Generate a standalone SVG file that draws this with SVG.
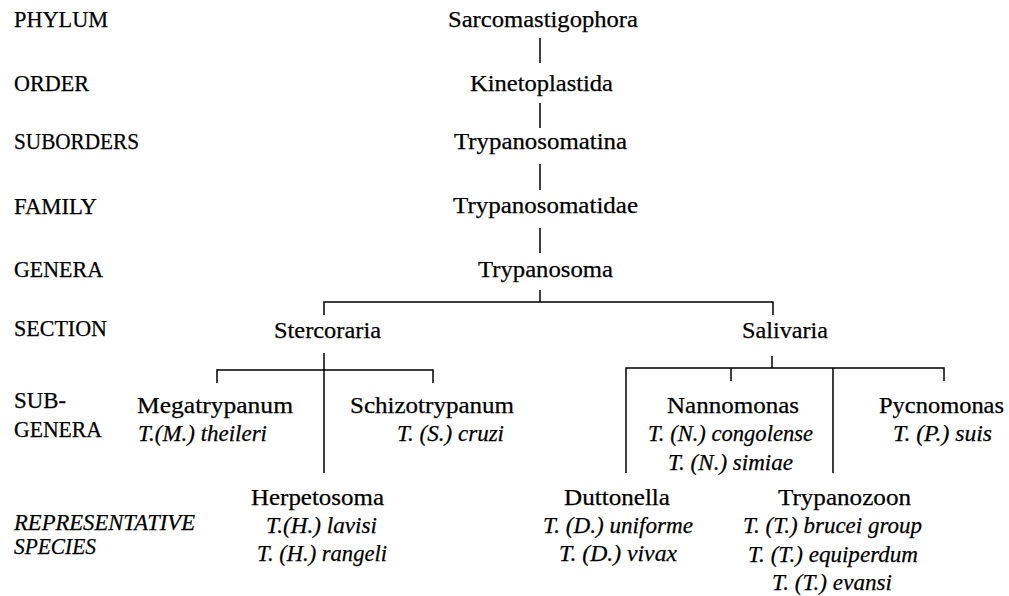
<svg xmlns="http://www.w3.org/2000/svg" width="1009" height="596" viewBox="0 0 1009 596">
<style>
text{font-family:'Liberation Serif','Times New Roman',serif;font-size:23px;fill:#000;stroke:#000;stroke-width:0.25}
.i{font-style:italic}
.c{stroke:#000;stroke-width:1.5;fill:none}
</style>
<rect width="1009" height="596" fill="#fff"/>
<g id="rank-labels">
<text x="14" y="27" textLength="94" lengthAdjust="spacingAndGlyphs">PHYLUM</text>
<text x="14" y="91" textLength="75" lengthAdjust="spacingAndGlyphs">ORDER</text>
<text x="14" y="149" textLength="125" lengthAdjust="spacingAndGlyphs">SUBORDERS</text>
<text x="14" y="214" textLength="83" lengthAdjust="spacingAndGlyphs">FAMILY</text>
<text x="14" y="277" textLength="89" lengthAdjust="spacingAndGlyphs">GENERA</text>
<text x="14" y="336" textLength="93" lengthAdjust="spacingAndGlyphs">SECTION</text>
<text x="14" y="408" textLength="52" lengthAdjust="spacingAndGlyphs">SUB-</text>
<text x="14" y="437" textLength="88" lengthAdjust="spacingAndGlyphs">GENERA</text>
<text class="i" x="14" y="530" textLength="181" lengthAdjust="spacingAndGlyphs">REPRESENTATIVE</text>
<text class="i" x="14" y="554" textLength="82" lengthAdjust="spacingAndGlyphs">SPECIES</text>
</g>
<g id="connectors">
<path class="c" d="M540,38V63 M540,103V128 M540,164V190 M540,228V253 M540,290V302"/>
<path class="c" d="M324,315V302H773V315"/>
<path class="c" d="M324,353V473 M217,383V370H433V383"/>
<path class="c" d="M772,356V368 M626,473V368H944V381 M731,368V381 M833,368V473"/>
</g>
<g id="n-sarcomastigophora"><text x="448" y="27" textLength="190" lengthAdjust="spacingAndGlyphs">Sarcomastigophora</text></g>
<g id="n-kinetoplastida"><text x="470" y="91" textLength="143" lengthAdjust="spacingAndGlyphs">Kinetoplastida</text></g>
<g id="n-trypanosomatina"><text x="454" y="149" textLength="173" lengthAdjust="spacingAndGlyphs">Trypanosomatina</text></g>
<g id="n-trypanosomatidae"><text x="453" y="213" textLength="185" lengthAdjust="spacingAndGlyphs">Trypanosomatidae</text></g>
<g id="n-trypanosoma"><text x="478" y="277" textLength="135" lengthAdjust="spacingAndGlyphs">Trypanosoma</text></g>
<g id="n-stercoraria"><text x="274" y="338" textLength="107" lengthAdjust="spacingAndGlyphs">Stercoraria</text></g>
<g id="n-salivaria"><text x="742" y="338" textLength="86" lengthAdjust="spacingAndGlyphs">Salivaria</text></g>
<g id="n-megatrypanum">
<text x="137" y="413" textLength="156" lengthAdjust="spacingAndGlyphs">Megatrypanum</text>
<text class="i" x="138" y="441" textLength="129" lengthAdjust="spacingAndGlyphs">T.(M.) theileri</text>
</g>
<g id="n-schizotrypanum">
<text x="350" y="413" textLength="164" lengthAdjust="spacingAndGlyphs">Schizotrypanum</text>
<text class="i" x="397" y="441" textLength="107" lengthAdjust="spacingAndGlyphs">T. (S.) cruzi</text>
</g>
<g id="n-herpetosoma">
<text x="251" y="505" textLength="133" lengthAdjust="spacingAndGlyphs">Herpetosoma</text>
<text class="i" x="266" y="533" textLength="111" lengthAdjust="spacingAndGlyphs">T.(H.) lavisi</text>
<text class="i" x="257" y="561" textLength="130" lengthAdjust="spacingAndGlyphs">T. (H.) rangeli</text>
</g>
<g id="n-nannomonas">
<text x="667" y="413" textLength="132" lengthAdjust="spacingAndGlyphs">Nannomonas</text>
<text class="i" x="648" y="441" textLength="165" lengthAdjust="spacingAndGlyphs">T. (N.) congolense</text>
<text class="i" x="668" y="470" textLength="125" lengthAdjust="spacingAndGlyphs">T. (N.) simiae</text>
</g>
<g id="n-pycnomonas">
<text x="879" y="413" textLength="125" lengthAdjust="spacingAndGlyphs">Pycnomonas</text>
<text class="i" x="893" y="441" textLength="99" lengthAdjust="spacingAndGlyphs">T. (P.) suis</text>
</g>
<g id="n-duttonella">
<text x="564" y="505" textLength="106" lengthAdjust="spacingAndGlyphs">Duttonella</text>
<text class="i" x="543" y="533" textLength="150" lengthAdjust="spacingAndGlyphs">T. (D.) uniforme</text>
<text class="i" x="559" y="561" textLength="118" lengthAdjust="spacingAndGlyphs">T. (D.) vivax</text>
</g>
<g id="n-trypanozoon">
<text x="778" y="505" textLength="133" lengthAdjust="spacingAndGlyphs">Trypanozoon</text>
<text class="i" x="743" y="533" textLength="179" lengthAdjust="spacingAndGlyphs">T. (T.) brucei group</text>
<text class="i" x="748" y="562" textLength="170" lengthAdjust="spacingAndGlyphs">T. (T.) equiperdum</text>
<text class="i" x="772" y="590" textLength="120" lengthAdjust="spacingAndGlyphs">T. (T.) evansi</text>
</g>
</svg>
